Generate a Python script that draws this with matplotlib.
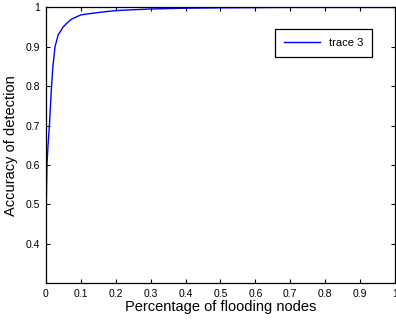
import matplotlib.pyplot as plt

plt.rcParams['font.family'] = ['Liberation Sans', 'DejaVu Sans']

# Detection accuracy against fraction of flooding nodes
frac = [0, 0.001, 0.003, 0.006, 0.01, 0.016, 0.02, 0.026, 0.035, 0.05,
        0.06, 0.073, 0.1, 0.15, 0.2, 0.3, 0.4, 0.5, 0.6, 0.7, 0.8, 0.9, 1.0]
accuracy = [0.36, 0.5, 0.6, 0.65, 0.70, 0.80, 0.85, 0.90, 0.93, 0.951,
            0.96, 0.970, 0.981, 0.987, 0.992, 0.996, 0.998, 0.999, 0.9995,
            1.0, 1.0, 1.0, 1.0]

xticks = [0, 0.1, 0.2, 0.3, 0.4, 0.5, 0.6, 0.7, 0.8, 0.9, 1]
xticklabels = ['0', '0.1', '0.2', '0.3', '0.4', '0.5', '0.6', '0.7', '0.8', '0.9', '1']
yticks = [0.4, 0.5, 0.6, 0.7, 0.8, 0.9, 1]
yticklabels = ['0.4', '0.5', '0.6', '0.7', '0.8', '0.9', '1']

fig = plt.figure(figsize=(3.96, 3.22), dpi=100)
ax = fig.add_axes([0.116, 0.121, 0.8815, 0.856])

ax.plot(frac, accuracy, color='#0000ff', linewidth=1.0, label='trace 3')

ax.set_xlim(0, 1)
ax.set_ylim(0.3, 1)
ax.set_xticks(xticks)
ax.set_xticklabels(xticklabels)
ax.set_yticks(yticks)
ax.set_yticklabels(yticklabels)
ax.tick_params(direction='in', top=True, right=True, length=3, width=0.8,
               labelsize=7.5, colors='black', pad=4)
for s in ax.spines.values():
    s.set_linewidth(0.9)

ax.set_xlabel('Percentage of flooding nodes', fontsize=10.5, labelpad=1)
ax.set_ylabel('Accuracy of detection', fontsize=10.5, labelpad=6)

leg = ax.legend(loc='upper right', bbox_to_anchor=(0.95, 0.94), fontsize=8,
                fancybox=False, framealpha=1, edgecolor='black',
                handlelength=3.2, borderpad=0.8)
leg.get_frame().set_linewidth(0.9)

fig.savefig('out.png', dpi=100)
